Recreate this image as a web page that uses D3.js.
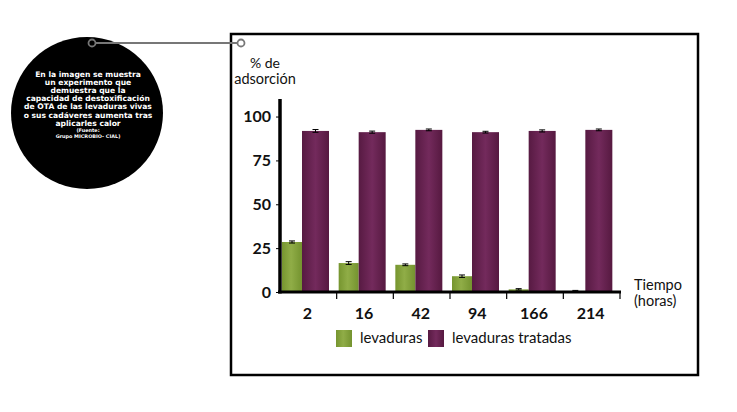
<!DOCTYPE html>
<html>
<head>
<meta charset="utf-8">
<script src="https://cdn.jsdelivr.net/npm/d3@7"></script>
<style>
  body { margin: 0; background: #fff; }
  svg { display: block; font-family: "Lato", "Open Sans", sans-serif; }
</style>
</head>
<body>
<svg id="chart" width="737" height="412"></svg>
<script>
// data
const horas = ["2", "16", "42", "94", "166", "214"];
const levaduras = [28.5, 16.5, 15.5, 9, 1.5, 0.5];
const levadurasErr = [0.6, 0.8, 0.5, 0.7, 0.4, 0.4];
const tratadas = [91.8, 91.1, 92.4, 91.1, 91.8, 92.4];
const tratadasErr = [0.8, 0.6, 0.5, 0.5, 0.6, 0.5];
const yTicks = [0, 25, 50, 75, 100];
const seriesNames = ["levaduras", "levaduras tratadas"];
const noteLines = [
  "En la imagen se muestra",
  "un experimento que",
  "demuestra que la",
  "capacidad de destoxificación",
  "de OTA de las levaduras vivas",
  "o sus cadáveres aumenta tras",
  "aplicarles calor"
];
const sourceLines = ["(Fuente:", "Grupo MICROBIO- CIAL)"];

const svg = d3.select("#chart");

// gradients for the bars (cylinder look)
const defs = svg.append("defs");
function addGrad(id, stops) {
  let g = defs.append("linearGradient").attr("id", id)
    .attr("x1", "0%").attr("x2", "100%").attr("y1", "0%").attr("y2", "0%");
  stops.forEach(s => g.append("stop").attr("offset", s[0]).attr("stop-color", s[1]));
}
addGrad("gGreen", [["0%", "#76952f"], ["45%", "#90ad47"], ["100%", "#74932f"]]);
addGrad("gPurple", [["0%", "#571a42"], ["50%", "#732a5c"], ["100%", "#561940"]]);

// frame
svg.append("rect")
  .attr("x", 231).attr("y", 34).attr("width", 467).attr("height", 341)
  .attr("fill", "none").attr("stroke", "#000").attr("stroke-width", 2.5);

// black note circle
svg.append("circle").attr("cx", 87).attr("cy", 113).attr("r", 76).attr("fill", "#000");

// connector
svg.append("line").attr("x1", 95).attr("x2", 238).attr("y1", 43).attr("y2", 43)
  .attr("stroke", "#777").attr("stroke-width", 2);
[92, 241].forEach(cx => {
  svg.append("circle").attr("cx", cx).attr("cy", 43).attr("r", 3.5)
    .attr("fill", cx < 150 ? "#000" : "#fff").attr("stroke", "#777").attr("stroke-width", 1.8);
});

const note = svg.append("g").attr("fill", "#fff").attr("text-anchor", "middle")
  .attr("font-weight", "bold").attr("font-family", "DejaVu Sans, sans-serif");
note.selectAll("text.n").data(noteLines).join("text").attr("class", "n")
  .attr("x", 88).attr("y", (d, i) => 76.5 + i * 8.2)
  .attr("font-size", 7.6).text(d => d);
note.selectAll("text.s").data(sourceLines).join("text").attr("class", "s")
  .attr("x", 88).attr("y", (d, i) => 132 + i * 6.2)
  .attr("font-size", 4.9).text(d => d);

// scales
const x = d3.scaleBand().domain(horas).range([280, 620]).padding(0);
const y = d3.scaleLinear().domain([0, 110]).range([292, 99]);
const greenW = 20, purpleW = 27;

// bars
const g = svg.append("g");
g.selectAll("rect.lev").data(horas).join("rect").attr("class", "lev")
  .attr("x", d => x(d) + 2).attr("width", greenW)
  .attr("y", (d, i) => y(levaduras[i])).attr("height", (d, i) => y(0) - y(levaduras[i]))
  .attr("fill", "url(#gGreen)");
g.selectAll("rect.trat").data(horas).join("rect").attr("class", "trat")
  .attr("x", d => x(d) + 2 + greenW).attr("width", purpleW)
  .attr("y", (d, i) => y(tratadas[i])).attr("height", (d, i) => y(0) - y(tratadas[i]))
  .attr("fill", "url(#gPurple)");

// error bars
function errBars(vals, errs, off, w) {
  horas.forEach((h, i) => {
    let cx = x(h) + off + w / 2;
    let e = g.append("g").attr("stroke", "#000").attr("stroke-width", 1);
    e.append("line").attr("x1", cx).attr("x2", cx)
      .attr("y1", y(vals[i] + errs[i])).attr("y2", y(vals[i] - errs[i]));
    e.append("line").attr("x1", cx - 3).attr("x2", cx + 3)
      .attr("y1", y(vals[i] + errs[i])).attr("y2", y(vals[i] + errs[i]));
    e.append("line").attr("x1", cx - 3).attr("x2", cx + 3)
      .attr("y1", y(vals[i] - errs[i])).attr("y2", y(vals[i] - errs[i]));
  });
}
errBars(levaduras, levadurasErr, 2, greenW);
errBars(tratadas, tratadasErr, 2 + greenW, purpleW);

// y axis
const yAxis = d3.axisLeft(y).tickValues(yTicks).tickSize(4).tickPadding(5);
const ya = svg.append("g").attr("transform", "translate(280,0)").call(yAxis);
ya.select(".domain").remove();
ya.selectAll(".tick line").attr("stroke", "#000");
ya.selectAll(".tick text").attr("font-size", 16).attr("font-weight", "bold")
  .attr("fill", "#111").attr("font-family", "Lato, sans-serif");
svg.append("line").attr("x1", 280).attr("x2", 280).attr("y1", y(110)).attr("y2", y(0) + 1.5)
  .attr("stroke", "#000").attr("stroke-width", 3.5);

// x axis
svg.append("line").attr("x1", 278).attr("x2", 621).attr("y1", y(0)).attr("y2", y(0))
  .attr("stroke", "#000").attr("stroke-width", 3);
svg.selectAll("line.xt").data(horas.map(h => x(h) + x.bandwidth())).join("line").attr("class", "xt")
  .attr("x1", d => d).attr("x2", d => d).attr("y1", y(0)).attr("y2", y(0) + 7)
  .attr("stroke", "#000").attr("stroke-width", 1.2);
svg.selectAll("text.xl").data(horas).join("text").attr("class", "xl")
  .attr("x", d => x(d) + x.bandwidth() / 2 - 1).attr("y", 319)
  .attr("text-anchor", "middle").attr("font-size", 16).attr("font-weight", "bold")
  .attr("fill", "#111").text(d => d);

// axis titles
svg.append("text").attr("x", 265).attr("y", 68).attr("text-anchor", "middle")
  .attr("font-size", 14).attr("fill", "#111").text("% de");
svg.append("text").attr("x", 265).attr("y", 84).attr("text-anchor", "middle")
  .attr("font-size", 14.5).attr("fill", "#111").text("adsorción");
svg.append("text").attr("x", 634).attr("y", 290)
  .attr("font-size", 14.5).attr("fill", "#111").text("Tiempo");
svg.append("text").attr("x", 634).attr("y", 306)
  .attr("font-size", 14.5).attr("fill", "#111").text("(horas)");

// legend
const legX = [336, 428];
const leg = svg.append("g");
seriesNames.forEach((name, i) => {
  leg.append("rect").attr("x", legX[i]).attr("y", 330).attr("width", 16).attr("height", 17)
    .attr("fill", i === 0 ? "url(#gGreen)" : "url(#gPurple)");
  leg.append("text").attr("x", legX[i] + 24).attr("y", 343)
    .attr("font-size", 15).attr("fill", "#111").text(name);
});
</script>
</body>
</html>
